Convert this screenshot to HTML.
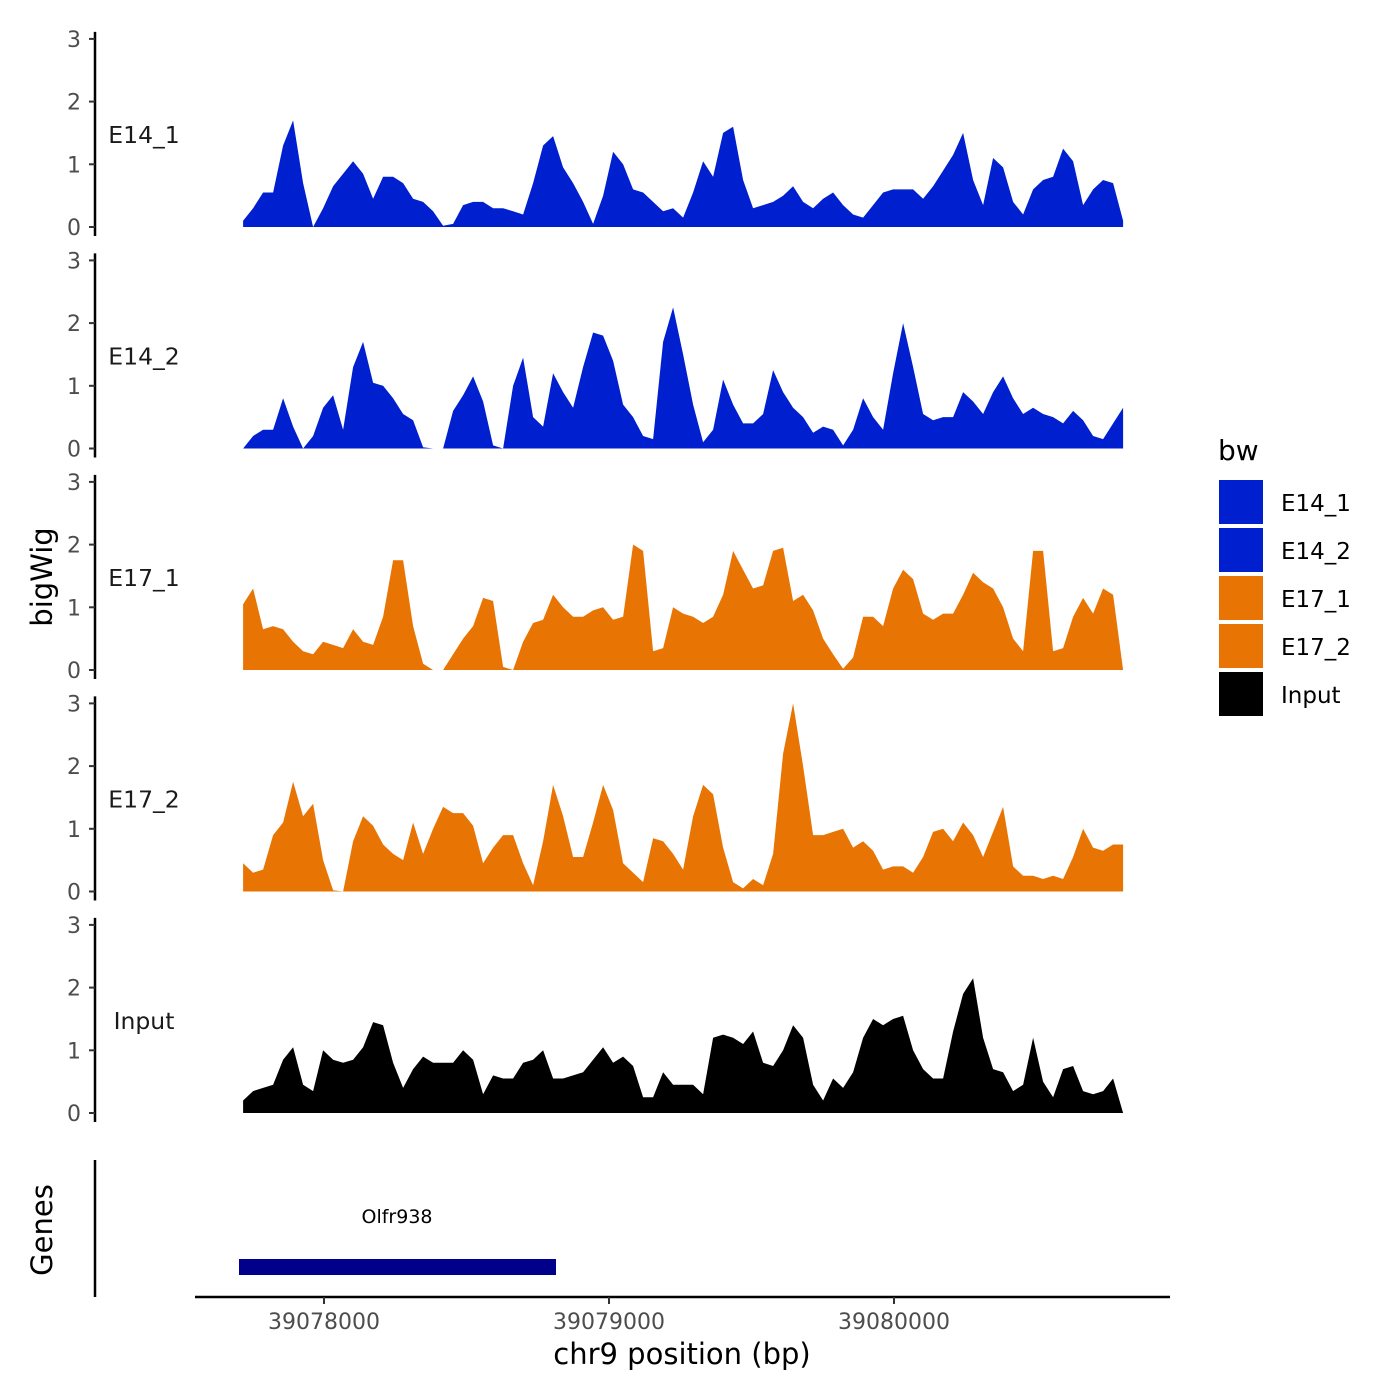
<!DOCTYPE html>
<html><head><meta charset="utf-8"><style>
html,body{margin:0;padding:0;background:#fff;}
svg{display:block;font-family:"DejaVu Sans","Liberation Sans",sans-serif;}
</style></head><body>
<svg id="chart" width="1400" height="1400" viewBox="0 0 1400 1400">
<text x="52" y="577" font-size="29" text-anchor="middle" transform="rotate(-90 52 577)" fill="#000">bigWig</text>
<text x="52" y="1230" font-size="29" text-anchor="middle" transform="rotate(-90 52 1230)" fill="#000">Genes</text>
<g id="tracks"></g>
<g>
<line x1="95" y1="1160" x2="95" y2="1297" stroke="#000" stroke-width="2.5"/>
<rect x="239" y="1259" width="317" height="16" fill="#00008B"/>
<text x="397" y="1223" font-size="19" text-anchor="middle" fill="#000">Olfr938</text>
</g>
<g id="xaxis">
<line x1="195" y1="1297" x2="1170" y2="1297" stroke="#000" stroke-width="2.5"/>
</g>
<text x="682" y="1364" font-size="29" text-anchor="middle" fill="#000">chr9 position (bp)</text>
<g>
<text x="1218" y="460" font-size="28" fill="#000">bw</text>
<rect x="1219" y="480" width="44" height="44" fill="#0020D0"/>
<text x="1281" y="511" font-size="23" fill="#000">E14_1</text>
<rect x="1219" y="528" width="44" height="44" fill="#0020D0"/>
<text x="1281" y="559" font-size="23" fill="#000">E14_2</text>
<rect x="1219" y="576" width="44" height="44" fill="#E87503"/>
<text x="1281" y="607" font-size="23" fill="#000">E17_1</text>
<rect x="1219" y="624" width="44" height="44" fill="#E87503"/>
<text x="1281" y="655" font-size="23" fill="#000">E17_2</text>
<rect x="1219" y="672" width="44" height="44" fill="#000"/>
<text x="1281" y="703" font-size="23" fill="#000">Input</text>
</g>
</svg>
<script>
const START_BP = 39077716;
const STEP_BP = 35.09;
const trackNames = ["E14_1","E14_2","E17_1","E17_2","Input"];
const yTicks = [0,1,2,3];
const xTicks = [39078000,39079000,39080000];
const xTickLabels = ["39078000","39079000","39080000"];
const e14_1 = [0.1,0.3,0.55,0.55,1.3,1.7,0.7,0,0.3,0.65,0.85,1.05,0.85,0.45,0.8,0.8,0.7,0.45,0.4,0.25,0.02,0.05,0.35,0.4,0.4,0.3,0.3,0.25,0.2,0.7,1.3,1.45,0.95,0.7,0.4,0.05,0.5,1.2,1.0,0.6,0.55,0.4,0.25,0.3,0.15,0.55,1.05,0.8,1.5,1.6,0.75,0.3,0.35,0.4,0.5,0.65,0.4,0.3,0.45,0.55,0.35,0.2,0.15,0.35,0.55,0.6,0.6,0.6,0.45,0.65,0.9,1.15,1.5,0.75,0.35,1.1,0.95,0.4,0.2,0.6,0.75,0.8,1.25,1.05,0.35,0.6,0.75,0.7,0.1];
const e14_2 = [0,0.2,0.3,0.3,0.8,0.35,0,0.2,0.65,0.85,0.3,1.3,1.7,1.05,1.0,0.8,0.55,0.45,0.02,0,0,0.6,0.85,1.15,0.75,0.05,0,1.0,1.45,0.5,0.35,1.2,0.9,0.65,1.3,1.85,1.8,1.4,0.7,0.5,0.2,0.15,1.7,2.25,1.5,0.7,0.1,0.3,1.1,0.7,0.4,0.4,0.55,1.25,0.9,0.65,0.5,0.25,0.35,0.3,0.05,0.3,0.8,0.5,0.3,1.2,2.0,1.3,0.55,0.45,0.5,0.5,0.9,0.75,0.55,0.9,1.15,0.8,0.55,0.65,0.55,0.5,0.4,0.6,0.45,0.2,0.15,0.4,0.65];
const e17_1 = [1.05,1.3,0.65,0.7,0.65,0.45,0.3,0.25,0.45,0.4,0.35,0.65,0.45,0.4,0.85,1.75,1.75,0.7,0.1,0,0,0.25,0.5,0.7,1.15,1.1,0.05,0,0.45,0.75,0.8,1.2,1.0,0.85,0.85,0.95,1.0,0.8,0.85,2.0,1.9,0.3,0.35,1.0,0.9,0.85,0.75,0.85,1.2,1.9,1.6,1.3,1.35,1.9,1.95,1.1,1.2,0.95,0.5,0.25,0.02,0.2,0.85,0.85,0.7,1.3,1.6,1.45,0.9,0.8,0.9,0.9,1.2,1.55,1.4,1.3,1.0,0.5,0.3,1.9,1.9,0.3,0.35,0.85,1.15,0.9,1.3,1.2,0];
const e17_2 = [0.45,0.3,0.35,0.9,1.1,1.75,1.2,1.4,0.5,0.02,0,0.8,1.2,1.05,0.75,0.6,0.5,1.1,0.6,1.0,1.35,1.25,1.25,1.05,0.45,0.7,0.9,0.9,0.45,0.1,0.8,1.7,1.2,0.55,0.55,1.1,1.7,1.3,0.45,0.3,0.15,0.85,0.8,0.6,0.35,1.2,1.7,1.55,0.7,0.15,0.05,0.2,0.1,0.6,2.2,3.0,2.0,0.9,0.9,0.95,1.0,0.7,0.8,0.65,0.35,0.4,0.4,0.3,0.55,0.95,1.0,0.8,1.1,0.9,0.55,0.95,1.35,0.4,0.25,0.25,0.2,0.25,0.2,0.55,1.0,0.7,0.65,0.75,0.75];
const inputTrack = [0.2,0.35,0.4,0.45,0.85,1.05,0.45,0.35,1.0,0.85,0.8,0.85,1.05,1.45,1.4,0.8,0.4,0.7,0.9,0.8,0.8,0.8,1.0,0.85,0.3,0.6,0.55,0.55,0.8,0.85,1.0,0.55,0.55,0.6,0.65,0.85,1.05,0.8,0.9,0.75,0.25,0.25,0.65,0.45,0.45,0.45,0.3,1.2,1.25,1.2,1.1,1.3,0.8,0.75,1.0,1.4,1.2,0.45,0.2,0.55,0.4,0.65,1.2,1.5,1.4,1.5,1.55,1.0,0.7,0.55,0.55,1.3,1.9,2.15,1.2,0.7,0.65,0.35,0.45,1.2,0.5,0.25,0.7,0.75,0.35,0.3,0.35,0.55,0];

const seriesList = [e14_1,e14_2,e17_1,e17_2,inputTrack];
const colors = ["#0020D0","#0020D0","#E87503","#E87503","#000000"];
const NS = "http://www.w3.org/2000/svg";
const xScale = bp => 324 + (bp - 39078000) * 0.285;
const panelZero = i => 227 + i * 221.5;
const yScale = (i, v) => panelZero(i) - v * 62.7;

const tracks = document.getElementById('tracks');
seriesList.forEach((vals, i) => {
  const g = document.createElementNS(NS, 'g');
  
  
  const z = panelZero(i);
  const ax = document.createElementNS(NS, 'line');
  ax.setAttribute('x1', 95); ax.setAttribute('x2', 95);
  ax.setAttribute('y1', yScale(i, 3) - 7); ax.setAttribute('y2', z + 9);
  ax.setAttribute('stroke', '#000'); ax.setAttribute('stroke-width', '2.5');
  
  
  g.appendChild(ax);
  yTicks.forEach(t => {
    const y = yScale(i, t);
    const tk = document.createElementNS(NS, 'line');
    tk.setAttribute('x1', 89); tk.setAttribute('x2', 95);
    tk.setAttribute('y1', y); tk.setAttribute('y2', y);
    tk.setAttribute('stroke', '#333'); tk.setAttribute('stroke-width', '2');
    
    
    g.appendChild(tk);
    const tl = document.createElementNS(NS, 'text');
    tl.setAttribute('x', 81); tl.setAttribute('y', y + 8);
    tl.setAttribute('font-size', '22'); tl.setAttribute('fill', '#4d4d4d');
    tl.setAttribute('text-anchor', 'end');
    
    
    tl.textContent = String(t);
    g.appendChild(tl);
  });
  const lab = document.createElementNS(NS, 'text');
  lab.setAttribute('x', 144); lab.setAttribute('y', z - 84);
  lab.setAttribute('font-size', '23.5'); lab.setAttribute('fill', '#1a1a1a');
  lab.setAttribute('text-anchor', 'middle');
  
  
  lab.textContent = trackNames[i];
  g.appendChild(lab);
  let d = 'M' + xScale(START_BP).toFixed(1) + ',' + z;
  vals.forEach((v, k) => {
    d += ' L' + xScale(START_BP + k * STEP_BP).toFixed(1) + ',' + yScale(i, v).toFixed(1);
  });
  d += ' L' + xScale(START_BP + (vals.length - 1) * STEP_BP).toFixed(1) + ',' + z + ' Z';
  const p = document.createElementNS(NS, 'path');
  p.setAttribute('d', d);
  p.setAttribute('fill', colors[i]);
  
  
  g.appendChild(p);
  tracks.appendChild(g);
});

const xaxis = document.getElementById('xaxis');
xTicks.forEach((t, k) => {
  const x = xScale(t);
  const tk = document.createElementNS(NS, 'line');
  tk.setAttribute('x1', x); tk.setAttribute('x2', x);
  tk.setAttribute('y1', 1297); tk.setAttribute('y2', 1304);
  tk.setAttribute('stroke', '#333'); tk.setAttribute('stroke-width', '2');
  
  
  xaxis.appendChild(tk);
  const tl = document.createElementNS(NS, 'text');
  tl.setAttribute('x', x); tl.setAttribute('y', 1329);
  tl.setAttribute('font-size', '22'); tl.setAttribute('fill', '#4d4d4d');
  tl.setAttribute('text-anchor', 'middle');
  
  
  tl.textContent = xTickLabels[k];
  xaxis.appendChild(tl);
});
</script>
</body></html>
